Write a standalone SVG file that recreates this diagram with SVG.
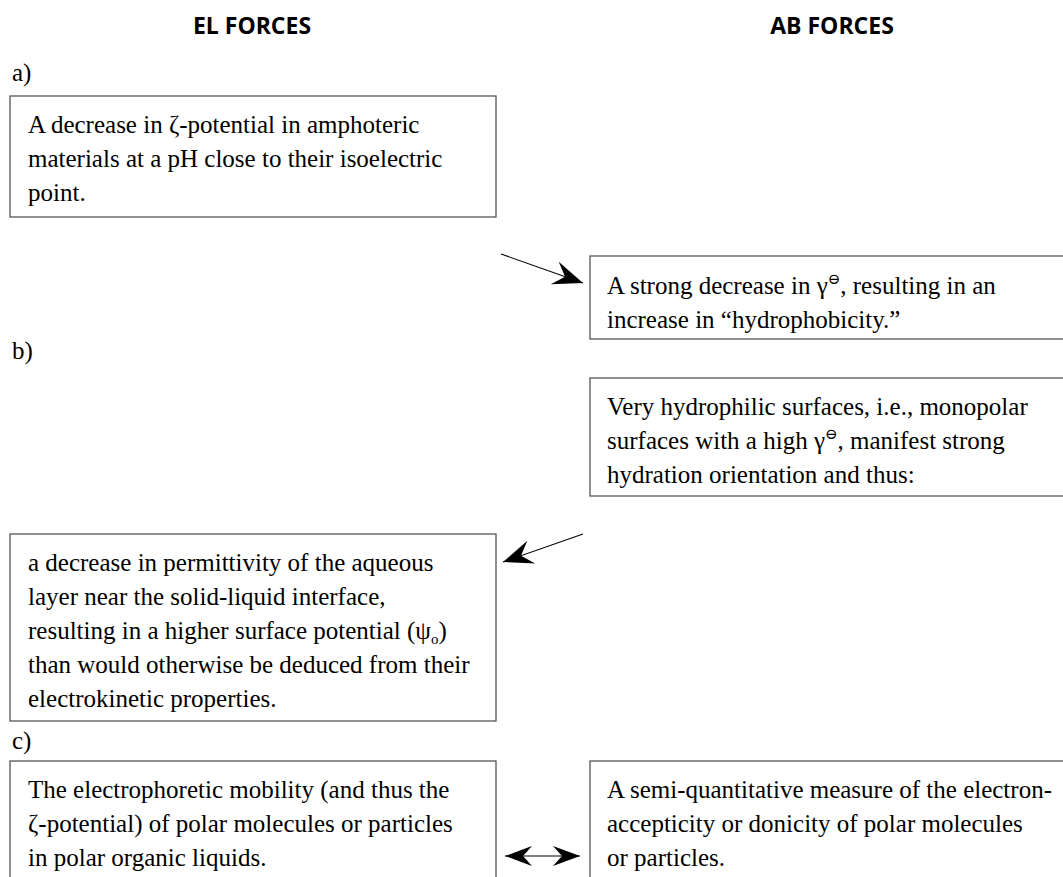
<svg xmlns="http://www.w3.org/2000/svg" width="1063" height="877" viewBox="0 0 1063 877">
  <style>
    .hdr { font-family: "Open Sans", "Liberation Sans", sans-serif; font-weight: 700; font-size: 23px; fill: #000; text-anchor: middle; }
    .txt { font-family: "Liberation Serif", "DejaVu Serif", serif; font-size: 25px; fill: #000; }
    .box { fill: none; stroke: #555; stroke-width: 1.3; }
    .sup { font-size: 15px; }
    .sub { font-size: 15px; }
    .conn { stroke: #000; stroke-width: 1.1; fill: none; }
  </style>
  <defs>
    <marker id="stealth" viewBox="-34 -14 36 28" refX="0" refY="0" markerWidth="36" markerHeight="28" markerUnits="userSpaceOnUse" orient="auto">
      <path d="M0,0 L-30,-12 L-19,0 L-30,12 Z" fill="#000"/>
    </marker>
    <marker id="stealthSm" viewBox="-34 -14 36 28" refX="0" refY="0" markerWidth="36" markerHeight="28" markerUnits="userSpaceOnUse" orient="auto-start-reverse">
      <path d="M0,0 L-27,-10 L-18,0 L-27,10 Z" fill="#000"/>
    </marker>
  </defs>

  <rect width="1063" height="877" fill="#fff"/>

  <!-- column headings -->
  <text class="hdr" x="252" y="34">EL FORCES</text>
  <text class="hdr" x="832" y="34">AB FORCES</text>

  <!-- section labels -->
  <text class="txt" x="12" y="81">a)</text>
  <text class="txt" x="12" y="359">b)</text>
  <text class="txt" x="12" y="749">c)</text>

  <g id="el-a">
    <rect class="box" x="10" y="96" width="486" height="121"/>
    <text class="txt" x="28" y="133">A decrease in ζ-potential in amphoteric</text>
    <text class="txt" x="28" y="167">materials at a pH close to their isoelectric</text>
    <text class="txt" x="28" y="201">point.</text>
  </g>

  <g id="ab-a">
    <rect class="box" x="590" y="256" width="500" height="83"/>
    <text class="txt" x="607" y="294">A strong decrease in γ<tspan class="sup" dy="-10">⊖</tspan><tspan dy="10">, resulting in an</tspan></text>
    <text class="txt" x="607" y="328">increase in “hydrophobicity.”</text>
  </g>

  <g id="ab-b">
    <rect class="box" x="590" y="378" width="500" height="118"/>
    <text class="txt" x="607" y="415">Very hydrophilic surfaces, i.e., monopolar</text>
    <text class="txt" x="607" y="449">surfaces with a high γ<tspan class="sup" dy="-10">⊖</tspan><tspan dy="10">, manifest strong</tspan></text>
    <text class="txt" x="607" y="483">hydration orientation and thus:</text>
  </g>

  <g id="el-b">
    <rect class="box" x="10" y="534" width="486" height="187"/>
    <text class="txt" x="28" y="571">a decrease in permittivity of the aqueous</text>
    <text class="txt" x="28" y="605">layer near the solid-liquid interface,</text>
    <text class="txt" x="28" y="639">resulting in a higher surface potential (ψ<tspan class="sub" dy="5">o</tspan><tspan dy="-5">)</tspan></text>
    <text class="txt" x="28" y="673">than would otherwise be deduced from their</text>
    <text class="txt" x="28" y="707">electrokinetic properties.</text>
  </g>

  <g id="el-c">
    <rect class="box" x="10" y="761" width="486" height="140"/>
    <text class="txt" x="28" y="798">The electrophoretic mobility (and thus the</text>
    <text class="txt" x="28" y="832">ζ-potential) of polar molecules or particles</text>
    <text class="txt" x="28" y="866">in polar organic liquids.</text>
  </g>

  <g id="ab-c">
    <rect class="box" x="590" y="761" width="500" height="140"/>
    <text class="txt" x="607" y="798">A semi-quantitative measure of the electron-</text>
    <text class="txt" x="607" y="832">accepticity or donicity of polar molecules</text>
    <text class="txt" x="607" y="866">or particles.</text>
  </g>

  <g id="connectors">
    <line class="conn" x1="501" y1="254" x2="583" y2="283" marker-end="url(#stealth)"/>
    <line class="conn" x1="583" y1="534" x2="503" y2="562" marker-end="url(#stealth)"/>
    <line class="conn" x1="505" y1="856" x2="580" y2="856" marker-start="url(#stealthSm)" marker-end="url(#stealthSm)"/>
  </g>
</svg>
